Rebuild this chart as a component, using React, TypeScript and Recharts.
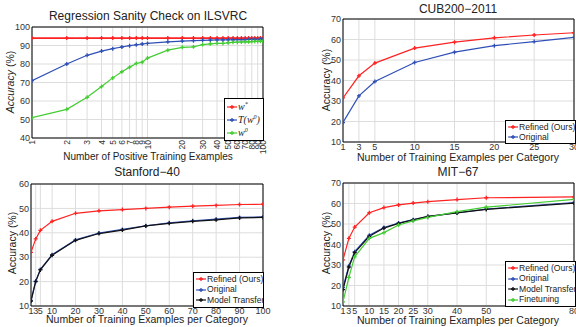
import React from "react";
import {LineChart, Line, XAxis, YAxis, CartesianGrid, ReferenceArea} from "recharts";

// ILSVRC sanity check (log x)
const ilsvrcShots = [1, 2, 3, 4, 5, 6, 7, 8, 9, 10, 15, 20, 25, 30, 35, 40, 45, 50, 55, 60, 65, 70, 75, 80, 85, 90, 95, 100];
const ilsvrcWStar = [94, 94, 94, 94, 94, 94, 94, 94, 94, 94, 94, 94, 94, 94, 94, 94, 94, 94, 94, 94, 94, 94, 94, 94, 94, 94, 94, 94];
const ilsvrcTW0 = [71, 80, 84.7, 87, 88.3, 89.2, 89.9, 90.4, 90.8, 91.1, 92, 92.4, 92.6, 92.8, 92.9, 93, 93, 93.1, 93.1, 93.2, 93.2, 93.2, 93.3, 93.3, 93.3, 93.3, 93.4, 93.4];
const ilsvrcW0 = [51, 55.5, 62, 67.8, 72.5, 75.8, 78.3, 80.3, 81, 83.2, 87.5, 89, 89.3, 90.5, 90.9, 91.2, 91.1, 91.5, 91.7, 91.8, 91.9, 92, 92, 92.1, 92.2, 92.2, 92.3, 92.3];
const ilsvrcTicks = [1, 2, 3, 4, 5, 6, 7, 8, 9, 10, 20, 30, 40, 50, 60, 70, 80, 90, 100];

// CUB200-2011
const cubShots = [1, 3, 5, 10, 15, 20, 25, 30];
const cubRefined = [31.5, 42.3, 48.5, 55.8, 58.7, 60.8, 62.2, 63.3];
const cubOriginal = [19.5, 32.5, 39.5, 48.8, 53.8, 57, 59, 61];

// Stanford-40
const stanShots = [1, 3, 5, 10, 20, 30, 40, 50, 60, 70, 80, 90, 100];
const stanRefined = [32, 37.5, 41, 44.7, 48, 49, 49.5, 50, 50.5, 50.9, 51.2, 51.6, 51.7];
const stanOriginal = [12.3, 20.2, 25, 31, 37.1, 39.9, 41.4, 42.9, 44.1, 44.9, 45.6, 46.3, 46.5];
const stanTransfer = [12, 20, 24.8, 30.8, 36.9, 39.7, 41.1, 42.8, 43.9, 44.7, 45.3, 46.1, 46.3];

// MIT-67
const mitShots = [1, 3, 5, 10, 15, 20, 25, 30, 40, 50, 80];
const mitRefined = [32.5, 43, 48.5, 55.5, 58, 59.3, 60.2, 60.9, 61.9, 62.8, 63.2];
const mitOriginal = [19, 29.5, 36.5, 44.5, 48.3, 50.5, 52.1, 53.6, 55.5, 57.3, 60.5];
const mitTransfer = [18, 29, 36, 44, 48, 50.3, 52, 53.7, 55.4, 57.1, 60.2];
const mitFinetune = [12, 24, 34, 43, 45.8, 49.5, 51.5, 53.2, 56, 58.2, 62];

const RED = "#f22";
const BLUE = "#2f4fb5";
const BLACK = "#111";
const GREEN = "#4c3";
const FONT = "'Liberation Sans', Arial, sans-serif";

const zip = (xs: number[], cols: Record<string, number[]>) =>
  xs.map((x, i) => {
    const row: Record<string, number> = {x};
    Object.keys(cols).forEach((k) => (row[k] = cols[k][i]));
    return row;
  });

const Cross = (props: any) => {
  const {cx, cy, stroke} = props;
  if (cx == null || cy == null) return null;
  return (
    <path
      d={`M${cx - 2},${cy}H${cx + 2}M${cx},${cy - 2}V${cy + 2}`}
      stroke={stroke}
      strokeWidth={1.3}
      fill="none"
    />
  );
};

const RotTick = (props: any) => {
  const {x, y, payload} = props;
  return (
    <text
      transform={`translate(${x + 3},${y + 2}) rotate(-90)`}
      textAnchor="end"
      fontSize={8.5}
      fill="#333"
      fontFamily={FONT}
    >
      {payload.value}
    </text>
  );
};

type Series = {key: string; color: string; width?: number};

type PanelProps = {
  left: number;
  top: number;
  height: number;
  margin: {top: number; right: number; bottom: number; left: number};
  data: Record<string, number>[];
  series: Series[];
  xDomain: [number, number];
  xTicks: number[];
  yDomain: [number, number];
  yTicks: number[];
  log?: boolean;
};

function Panel(p: PanelProps) {
  return (
    <div style={{position: "absolute", left: p.left, top: p.top}}>
      <LineChart width={288} height={p.height} data={p.data} margin={p.margin}>
        <CartesianGrid stroke="#ddd" strokeWidth={1} />
        <XAxis
          dataKey="x"
          type="number"
          scale={p.log ? "log" : "linear"}
          domain={p.xDomain}
          ticks={p.xTicks}
          interval={0}
          allowDataOverflow
          height={12}
          axisLine={false}
          tickLine={false}
          tickSize={0}
          tickMargin={p.log ? 0 : 2}
          tick={p.log ? <RotTick /> : {fontSize: 9, fill: "#333", fontFamily: FONT}}
        />
        <YAxis
          type="number"
          domain={p.yDomain}
          ticks={p.yTicks}
          interval={0}
          width={24}
          axisLine={false}
          tickLine={false}
          tickSize={0}
          tickMargin={2}
          tick={{fontSize: 9, fill: "#333", fontFamily: FONT}}
        />
        <ReferenceArea
          x1={p.xDomain[0]}
          x2={p.xDomain[1]}
          y1={p.yDomain[0]}
          y2={p.yDomain[1]}
          fill="none"
          stroke="#000"
          strokeWidth={1}
          ifOverflow="visible"
        />
        {p.series.map((s) => (
          <Line
            key={s.key}
            dataKey={s.key}
            stroke={s.color}
            strokeWidth={s.width ?? 1.2}
            dot={<Cross />}
            isAnimationActive={false}
          />
        ))}
      </LineChart>
    </div>
  );
}

const Txt = ({x, y, size, children, rotate}: {x: number; y: number; size: number; children: React.ReactNode; rotate?: boolean}) => (
  <div
    style={{
      position: "absolute",
      left: x,
      top: y,
      transform: `translate(-50%,-50%)${rotate ? " rotate(-90deg)" : ""}`,
      fontSize: size,
      fontFamily: FONT,
      color: "#222",
      whiteSpace: "nowrap",
      lineHeight: 1,
    }}
  >
    {children}
  </div>
);

type Entry = {label: React.ReactNode; color: string; serif?: boolean};

const LegendBox = ({left, top, width, rowH, entries}: {left: number; top: number; width: number; rowH: number; entries: Entry[]}) => (
  <div
    style={{
      position: "absolute",
      left,
      top,
      width,
      border: "1px solid #000",
      background: "#fff",
      padding: "1px 0",
      boxSizing: "border-box",
      overflow: "hidden",
    }}
  >
    {entries.map((e, i) => (
      <div key={i} style={{display: "flex", alignItems: "center", height: rowH}}>
        <svg width={12} height={8} style={{flex: "none", marginLeft: 1}}>
          <line x1={1} y1={4} x2={11} y2={4} stroke={e.color} strokeWidth={1.2} />
          <path d="M4,4H8M6,2V6" stroke={e.color} strokeWidth={1.3} />
        </svg>
        <span
          style={{
            fontSize: e.serif ? 10 : 8.6,
            fontFamily: e.serif ? "'Liberation Serif', serif" : FONT,
            fontStyle: e.serif ? "italic" : "normal",
            color: "#222",
            whiteSpace: "nowrap",
            lineHeight: 1,
          }}
        >
          {e.label}
        </span>
      </div>
    ))}
  </div>
);

export default function App() {
  const ilsvrcData = zip(ilsvrcShots, {wstar: ilsvrcWStar, tw0: ilsvrcTW0, w0: ilsvrcW0});
  const cubData = zip(cubShots, {refined: cubRefined, original: cubOriginal});
  const stanData = zip(stanShots, {refined: stanRefined, original: stanOriginal, transfer: stanTransfer});
  const mitData = zip(mitShots, {refined: mitRefined, original: mitOriginal, transfer: mitTransfer, finetune: mitFinetune});

  return (
    <div style={{position: "absolute", left: 0, top: 0, width: 576, height: 327, background: "#fff", overflow: "hidden"}}>
      <Panel
        left={0}
        top={0}
        height={165}
        margin={{top: 27, right: 25, bottom: 15, left: 8}}
        data={ilsvrcData}
        series={[
          {key: "wstar", color: RED, width: 1.8},
          {key: "tw0", color: BLUE},
          {key: "w0", color: GREEN},
        ]}
        xDomain={[1, 100]}
        xTicks={ilsvrcTicks}
        yDomain={[40, 100]}
        yTicks={[40, 50, 60, 70, 80, 90, 100]}
        log
      />
      <Panel
        left={288}
        top={0}
        height={165}
        margin={{top: 19, right: 2, bottom: 11, left: 31}}
        data={cubData}
        series={[
          {key: "refined", color: RED},
          {key: "original", color: BLUE},
        ]}
        xDomain={[1, 30]}
        xTicks={cubShots}
        yDomain={[10, 70]}
        yTicks={[10, 20, 30, 40, 50, 60, 70]}
      />
      <Panel
        left={0}
        top={163}
        height={164}
        margin={{top: 21, right: 25, bottom: 9, left: 7}}
        data={stanData}
        series={[
          {key: "original", color: BLUE},
          {key: "transfer", color: BLACK},
          {key: "refined", color: RED},
        ]}
        xDomain={[1, 100]}
        xTicks={[1, 3, 5, 10, 20, 30, 40, 50, 60, 70, 80, 90, 100]}
        yDomain={[10, 60]}
        yTicks={[10, 20, 30, 40, 50, 60]}
      />
      <Panel
        left={288}
        top={163}
        height={164}
        margin={{top: 20, right: 2, bottom: 9, left: 31}}
        data={mitData}
        series={[
          {key: "original", color: BLUE},
          {key: "transfer", color: BLACK},
          {key: "finetune", color: GREEN},
          {key: "refined", color: RED},
        ]}
        xDomain={[1, 80]}
        xTicks={mitShots}
        yDomain={[10, 70]}
        yTicks={[10, 20, 30, 40, 50, 60, 70]}
      />

      <Txt x={148} y={16} size={12}>Regression Sanity Check on ILSVRC</Txt>
      <Txt x={458} y={9} size={12}>CUB200−2011</Txt>
      <Txt x={147} y={172} size={12}>Stanford−40</Txt>
      <Txt x={458} y={172} size={12}>MIT−67</Txt>

      <Txt x={148} y={157} size={10}>Number of Positive Training Examples</Txt>
      <Txt x={458} y={157} size={10.5}>Number of Training Examples per Category</Txt>
      <Txt x={147} y={319} size={10.5}>Number of Training Examples per Category</Txt>
      <Txt x={458} y={320} size={10.5}>Number of Training Examples per Category</Txt>

      <Txt x={10} y={82} size={10.5} rotate>
        <i>Accuracy</i> (%)
      </Txt>
      <Txt x={326} y={80} size={10.5} rotate>Accuracy (%)</Txt>
      <Txt x={12} y={243} size={10.5} rotate>Accuracy (%)</Txt>
      <Txt x={326} y={243} size={10.5} rotate>Accuracy (%)</Txt>

      <LegendBox
        left={224}
        top={98}
        width={40}
        rowH={13}
        entries={[
          {label: <>w<sup style={{fontSize: 6}}>*</sup></>, color: RED, serif: true},
          {label: <>T(w<sup style={{fontSize: 6}}>0</sup>)</>, color: BLUE, serif: true},
          {label: <>w<sup style={{fontSize: 6}}>0</sup></>, color: GREEN, serif: true},
        ]}
      />
      <LegendBox
        left={505}
        top={120}
        width={71}
        rowH={10}
        entries={[
          {label: "Refined (Ours)", color: RED},
          {label: "Original", color: BLUE},
        ]}
      />
      <LegendBox
        left={193}
        top={272}
        width={71}
        rowH={10.5}
        entries={[
          {label: "Refined (Ours)", color: RED},
          {label: "Original", color: BLUE},
          {label: "Model Transfer", color: BLACK},
        ]}
      />
      <LegendBox
        left={505}
        top={261}
        width={71}
        rowH={10.5}
        entries={[
          {label: "Refined (Ours)", color: RED},
          {label: "Original", color: BLUE},
          {label: "Model Transfer", color: BLACK},
          {label: "Finetuning", color: GREEN},
        ]}
      />
    </div>
  );
}
